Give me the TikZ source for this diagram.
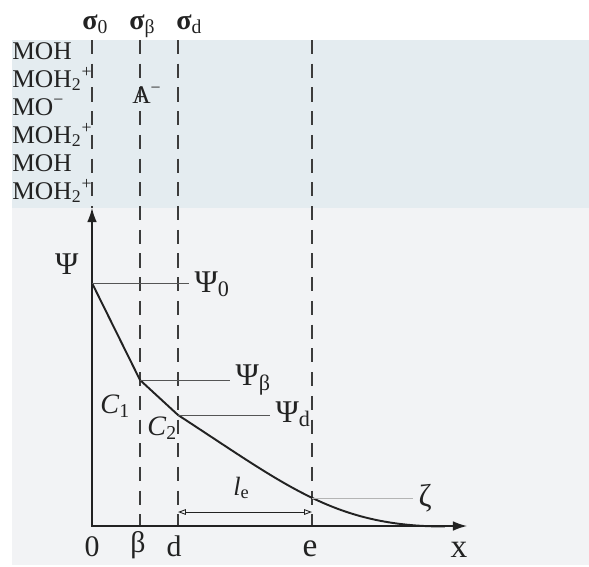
\documentclass[tikz,border=0pt]{standalone}
\usepackage{fontspec}
\setmainfont{Liberation Serif}
\usetikzlibrary{arrows.meta}
\definecolor{Band}{HTML}{E4ECF0}
\definecolor{Ground}{HTML}{F2F3F5}
\definecolor{Ink}{HTML}{222222}
\definecolor{Guide}{HTML}{3C3C3C}
\definecolor{Rule}{HTML}{555555}
\definecolor{Faint}{HTML}{B4B4B4}

\begin{document}
\begin{tikzpicture}[x=0.02cm,y=-0.02cm,
  site/.style={anchor=base west,inner sep=0pt,text=Ink,font=\fontsize{14.5}{15}\selectfont},
  plane/.style={anchor=base west,inner sep=0pt,text=Ink,font=\fontsize{16}{16}\selectfont},
  level/.style={anchor=base west,inner xsep=3pt,inner ysep=0pt,text=Ink,font=\fontsize{18}{18}\selectfont},
  axislabel/.style={anchor=base,inner sep=0pt,text=Ink,font=\fontsize{17}{17}\selectfont},
  bigaxislabel/.style={anchor=base,inner sep=0pt,text=Ink,font=\fontsize{19}{19}\selectfont},
  layer/.style={anchor=base west,inner sep=0pt,text=Ink,font=\fontsize{16}{16}\selectfont},
  guide/.style={draw=Guide,line width=0.7pt,dash pattern=on 8pt off 5.5pt},
  axis/.style={draw=Ink,line width=0.8pt},
  curve/.style={draw=Ink,line width=1.1pt,line join=round},
  rule/.style={draw=Rule,line width=0.5pt},
  span/.style={draw=Ink,line width=0.5pt,{Triangle[open,length=4.5pt,width=3.2pt]}-{Triangle[open,length=4.5pt,width=3.2pt]}}
]
  \useasboundingbox (0,0) rectangle (589,566);
  \fill[Band] (12,40) rectangle (589,208);
  \fill[Ground] (12,208) rectangle (589,565);

  % reference points
  \coordinate (top) at (0,40);
  \coordinate (O) at (92,526);
  \coordinate (ytip) at (92,208);
  \coordinate (xtip) at (467,526);
  \coordinate (b) at (140,526);
  \coordinate (d) at (178,526);
  \coordinate (e) at (312,526);
  \coordinate (p0) at (92,283);
  \coordinate (pb) at (140,380);
  \coordinate (pd) at (178,415);
  \coordinate (pe) at (312,498);
  \coordinate (tail) at (445,526.5);
  \coordinate (le1) at (178,512);
  \coordinate (le2) at (312,512);

  % planes
  \draw[guide] (O |- top) -- (ytip);
  \draw[guide] (b |- top) -- (b);
  \draw[guide] (d |- top) -- (d);
  \draw[guide] (e |- top) -- (e);
  \node[plane] (s0) at (82,29) {{\bfseries σ}\textsubscript{0}};
  \node[plane] (sb) at (129,29) {{\bfseries σ}\textsubscript{β}};
  \node[plane] (sd) at (176,29) {{\bfseries σ}\textsubscript{d}};

  % surface sites
  \node[site] (r1) at (12,59) {MOH};
  \node[site] (r2) at (12,87) {MOH\textsubscript{2}\textsuperscript{+}};
  \node[site] (r3) at (12,115) {MO\textsuperscript{−}};
  \node[site] (r4) at (12,143) {MOH\textsubscript{2}\textsuperscript{+}};
  \node[site] (r5) at (12,171) {MOH};
  \node[site] (r6) at (12,199) {MOH\textsubscript{2}\textsuperscript{+}};
  \node[site] (anion) at (132,103) {A\textsuperscript{−}};

  % axes
  \draw[axis,{Latex[length=8pt,width=5.5pt]}-{Latex[length=8pt,width=5.5pt]}] (ytip) -- (O) -- (xtip);
  \node[level,anchor=base east] (psi) at (84,274) {Ψ};

  % potential profile
  \draw[curve] (p0) -- (pb) -- (pd) .. controls (288,486.5) and (335,526.5) .. (tail);

  % levels
  \node[level] (psi0) at (189,292) {Ψ\textsubscript{0}};
  \node[level] (psib) at (230,385) {Ψ\textsubscript{β}};
  \node[level] (psid) at (270,422) {Ψ\textsubscript{d}};
  \node[level] (zeta) at (413,506) {ζ};
  \draw[rule] (p0) -- (p0 -| psi0.west);
  \draw[rule] (pb) -- (pb -| psib.west);
  \draw[rule] (pd) -- (pd -| psid.west);
  \draw[draw=Faint,line width=0.5pt] (pe) -- (pe -| zeta.west);

  \node[layer] (c1) at (100,413) {\textit{C}\textsubscript{1}};
  \node[layer] (c2) at (147,435) {\textit{C}\textsubscript{2}};

  % shear plane distance
  \draw[span] (le1) -- (le2);
  \node[layer,font=\fontsize{15}{15}\selectfont] (le) at (233,495) {\textit{l}\textsubscript{e}};

  % axis marks
  \node[axislabel] (m0) at (92,556) {0};
  \node[axislabel] (mb) at (138,552) {β};
  \node[axislabel] (md) at (174,556) {d};
  \node[bigaxislabel] (me) at (310,556) {e};
  \node[bigaxislabel] (mx) at (459,557) {x};
\end{tikzpicture}
\end{document}
